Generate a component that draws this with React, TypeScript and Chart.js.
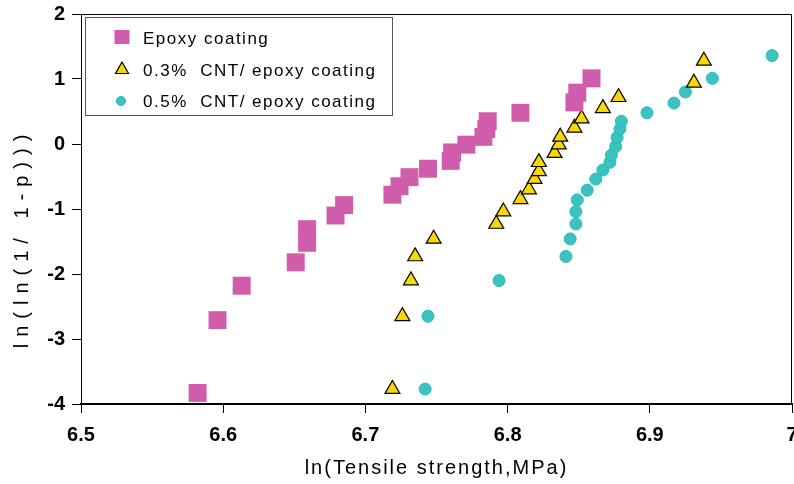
import React, { useEffect, useRef } from 'react';
import { Chart, registerables } from 'chart.js';

Chart.register(...registerables);

// ---- data ----
const epoxyX = [6.582, 6.596, 6.613, 6.651, 6.659, 6.659, 6.679, 6.685, 6.719, 6.724, 6.731, 6.744, 6.760, 6.761, 6.771, 6.783, 6.785, 6.786, 6.809, 6.847, 6.849, 6.859];
const epoxyY = [-3.83, -2.71, -2.18, -1.82, -1.52, -1.31, -1.10, -0.94, -0.78, -0.65, -0.51, -0.38, -0.26, -0.13, -0.01, 0.11, 0.23, 0.35, 0.48, 0.64, 0.79, 1.01];

const cnt03X = [6.719, 6.726, 6.732, 6.735, 6.748, 6.792, 6.797, 6.809, 6.815, 6.819, 6.822, 6.822, 6.833, 6.836, 6.837, 6.847, 6.852, 6.867, 6.878, 6.931, 6.938];
const cnt03Y = [-3.77, -2.65, -2.10, -1.73, -1.46, -1.23, -1.04, -0.85, -0.70, -0.54, -0.42, -0.28, -0.14, -0.01, 0.11, 0.25, 0.39, 0.55, 0.72, 0.94, 1.28];

const cnt05X = [6.742, 6.744, 6.794, 6.841, 6.844, 6.848, 6.848, 6.849, 6.856, 6.862, 6.867, 6.872, 6.873, 6.876, 6.877, 6.879, 6.880, 6.898, 6.917, 6.925, 6.944, 6.986];
const cnt05Y = [-3.77, -2.65, -2.10, -1.73, -1.46, -1.23, -1.04, -0.86, -0.71, -0.54, -0.40, -0.28, -0.17, -0.04, 0.10, 0.23, 0.35, 0.48, 0.63, 0.80, 1.01, 1.36];

const seriesLabels = ['Epoxy coating', '0.3%  CNT/ epoxy coating', '0.5%  CNT/ epoxy coating'];
const xTitle = 'ln(Tensile strength,MPa)';
const yTitle = 'ln(ln(1/ 1-p)))';
const xMin = 6.5, xMax = 7, xStep = 0.1;
const yMin = -4, yMax = 2, yStep = 1;

const PINK = '#D05CAC';
const YELLOW = '#F8D800';
const CYAN = '#3CC4BC';
const CYAN_EDGE = '#27B9C6';

const toPts = (xs: number[], ys: number[]) => xs.map((x, i) => ({ x, y: ys[i] }));

const decor = {
  id: 'decor',
  beforeDatasetsDraw(chart: any) {
    const { ctx, chartArea: a } = chart;
    ctx.save();
    ctx.strokeStyle = '#000';
    ctx.lineWidth = 1;
    ctx.strokeRect(a.left + 0.5, a.top + 0.5, a.right - a.left - 1, a.bottom - a.top - 1);
    ctx.restore();
  },
  afterDraw(chart: any) {
    const { ctx, chartArea: a } = chart;
    ctx.save();
    // legend box
    const lx = a.left + 4, ly = a.top + 3, lw = 308, lh = 99;
    ctx.fillStyle = '#fff';
    ctx.fillRect(lx, ly, lw, lh);
    ctx.strokeStyle = '#555';
    ctx.lineWidth = 1;
    ctx.strokeRect(lx + 0.5, ly + 0.5, lw - 1, lh - 1);
    const mx = lx + 37;
    const rows = [ly + 20, ly + 52, ly + 84];
    // square
    ctx.fillStyle = PINK;
    ctx.fillRect(mx - 7.5, rows[0] - 7, 15, 14);
    // triangle
    ctx.beginPath();
    ctx.moveTo(mx, rows[1] - 7);
    ctx.lineTo(mx + 6.5, rows[1] + 4.5);
    ctx.lineTo(mx - 6.5, rows[1] + 4.5);
    ctx.closePath();
    ctx.fillStyle = YELLOW;
    ctx.fill();
    ctx.strokeStyle = '#000';
    ctx.lineWidth = 1.2;
    ctx.stroke();
    // circle
    ctx.beginPath();
    ctx.arc(mx - 1, rows[2], 4.6, 0, Math.PI * 2);
    ctx.fillStyle = CYAN;
    ctx.fill();
    ctx.strokeStyle = CYAN_EDGE;
    ctx.lineWidth = 1;
    ctx.stroke();
    // legend text
    ctx.fillStyle = '#000';
    ctx.font = '17px "Liberation Sans", Arial, sans-serif';
    (ctx as any).letterSpacing = '1.5px';
    ctx.textAlign = 'left';
    ctx.textBaseline = 'alphabetic';
    const baselines = [ly + 27, ly + 59, ly + 90];
    seriesLabels.forEach((t, i) => ctx.fillText(t, lx + 58, baselines[i]));

    // x title
    ctx.font = '20px "Liberation Sans", Arial, sans-serif';
    (ctx as any).letterSpacing = '2px';
    ctx.textAlign = 'center';
    ctx.textBaseline = 'middle';
    ctx.fillText(xTitle, (a.left + a.right) / 2, a.bottom + 64);

    // y title
    ctx.translate(22, (a.top + a.bottom) / 2 + 29);
    ctx.rotate(-Math.PI / 2);
    ctx.font = '20px "Liberation Sans", Arial, sans-serif';
    (ctx as any).letterSpacing = '7px';
    ctx.fillText(yTitle, 0, 0);
    ctx.restore();
  },
};

export default function App() {
  const ref = useRef<HTMLCanvasElement>(null);
  useEffect(() => {
    document.body.style.margin = '0';
    if (!ref.current) return;
    const tickFont = { family: '"Liberation Sans", Arial, sans-serif', size: 20, weight: 'bold' as const };
    const chart = new Chart(ref.current, {
      type: 'scatter',
      data: {
        datasets: [
          {
            label: seriesLabels[0],
            data: toPts(epoxyX, epoxyY),
            pointStyle: 'rect',
            pointRadius: 12.7,
            backgroundColor: PINK,
            borderColor: PINK,
            borderWidth: 0,
          },
          {
            label: seriesLabels[1],
            data: toPts(cnt03X, cnt03Y),
            pointStyle: 'triangle',
            pointRadius: 8.6,
            backgroundColor: YELLOW,
            borderColor: '#000',
            borderWidth: 1.2,
          },
          {
            label: seriesLabels[2],
            data: toPts(cnt05X, cnt05Y),
            pointStyle: 'circle',
            pointRadius: 6,
            backgroundColor: CYAN,
            borderColor: CYAN_EDGE,
            borderWidth: 1,
          },
        ],
      },
      options: {
        animation: false,
        responsive: false,
        devicePixelRatio: 1,
        layout: { autoPadding: false, padding: { top: 14, right: 2, left: 0, bottom: 0 } },
        plugins: { legend: { display: false }, tooltip: { enabled: false } },
        scales: {
          x: {
            type: 'linear',
            min: xMin,
            max: xMax,
            afterFit: (s: any) => { s.height = 80; s.paddingLeft = 0; s.paddingRight = 0; },
            ticks: {
              stepSize: xStep,
              color: '#000',
              font: tickFont,
              padding: 10,
              maxRotation: 0,
              callback: (v: any) => String(Math.round(Number(v) * 10) / 10),
            },
            grid: { drawOnChartArea: false, tickLength: 9, color: '#000', tickWidth: 1 },
            border: { color: '#000', width: 2 },
          },
          y: {
            type: 'linear',
            min: yMin,
            max: yMax,
            afterFit: (s: any) => { s.width = 81; s.paddingTop = 0; s.paddingBottom = 0; },
            ticks: {
              stepSize: yStep,
              color: '#000',
              font: tickFont,
              padding: 7,
            },
            grid: { drawOnChartArea: false, tickLength: 9, color: '#000', tickWidth: 1 },
            border: { color: '#000', width: 1 },
          },
        },
      },
      plugins: [decor],
    });
    return () => chart.destroy();
  }, []);
  return <canvas ref={ref} width={794} height={484} style={{ display: 'block' }} />;
}
